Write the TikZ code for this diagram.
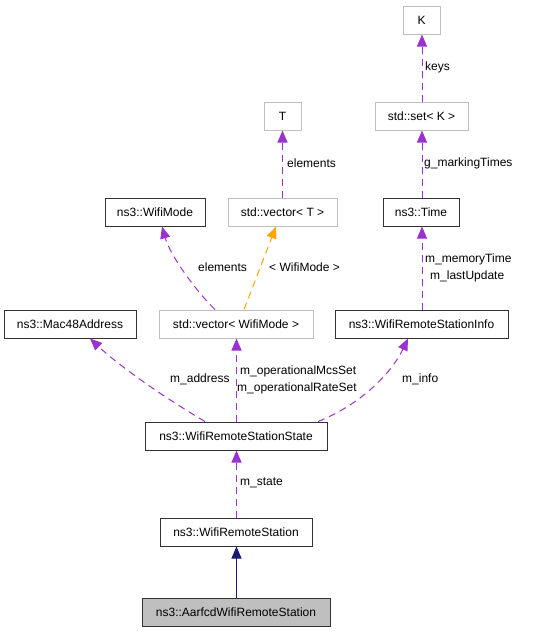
\documentclass[tikz,border=0pt]{standalone}
\usepackage{fontspec}
\setmainfont{Liberation Sans}
\usetikzlibrary{arrows.meta}
\definecolor{edgepurple}{HTML}{9A32CD}
\definecolor{edgeorange}{HTML}{FFA500}
\definecolor{edgenavy}{HTML}{191970}
\definecolor{tmplgray}{HTML}{BFBFBF}
\definecolor{fillgray}{HTML}{BFBFBF}
\begin{document}
\begin{tikzpicture}[x=1pt,y=-1pt,
  font=\fontsize{12}{14}\selectfont,
  cls/.style={draw=black!80, line width=1pt, rectangle, minimum height=28pt, inner sep=0pt},
  tmpl/.style={draw=tmplgray, line width=1pt, rectangle, minimum height=28pt, inner sep=0pt},
  usage/.style={draw=edgepurple, line width=1pt, dash pattern=on 7pt off 5pt, -{Triangle[length=12pt,width=10pt,fill=edgepurple]}},
  templ/.style={draw=edgeorange, line width=1pt, dash pattern=on 7pt off 5pt, -{Triangle[length=12pt,width=10pt,fill=edgeorange]}},
  inherit/.style={draw=edgenavy, line width=1pt, -{Triangle[length=12pt,width=10pt,fill=edgenavy]}},
  lbl/.style={anchor=west, inner sep=0pt}
]
\useasboundingbox (0,0) rectangle (552,632);

% nodes
\node[tmpl, minimum width=37pt] (K) at (421.5,20) {K};
\node[tmpl, minimum width=93pt] (setK) at (421.5,116) {std::set< K >};
\node[tmpl, minimum width=37pt] (T) at (282.5,116) {T};
\node[cls, minimum width=100pt] (mode) at (155,212) {ns3::WifiMode};
\node[tmpl, minimum width=109pt] (vecT) at (282.5,212) {std::vector< T >};
\node[cls, minimum width=76pt] (time) at (421,212) {ns3::Time};
\node[cls, minimum width=132pt] (mac) at (70,324) {ns3::Mac48Address};
\node[tmpl, minimum width=154pt] (vecWM) at (236,324) {std::vector< WifiMode >};
\node[cls, minimum width=173pt] (info) at (421.5,324) {ns3::WifiRemoteStationInfo};
\node[cls, minimum width=182pt] (state) at (236,436) {ns3::WifiRemoteStationState};
\node[cls, minimum width=152pt] (station) at (236,532) {ns3::WifiRemoteStation};
\node[cls, minimum width=188pt, fill=fillgray] (aarfcd) at (236,612) {ns3::AarfcdWifiRemoteStation};

% edges
\draw[usage] ([xshift=0.5pt]setK.north) -- ([xshift=0.5pt]K.south);
\draw[usage] ([xshift=1pt]time.north) -- ([xshift=0.5pt]setK.south);
\draw[usage] (vecT.north) -- (T.south);
\draw[usage] ([xshift=-21pt]vecWM.north) .. controls (195,290) and (170,255) .. ([xshift=7pt]mode.south);
\draw[templ] ([xshift=8pt]vecWM.north) -- ([xshift=-6.5pt]vecT.south);
\draw[usage] ([xshift=0.5pt]info.north) -- ([xshift=1pt]time.south);
\draw[usage] ([xshift=-31pt]state.north) .. controls (155,392) and (115,362) .. ([xshift=20pt]mac.south);
\draw[usage] ([xshift=0.5pt]state.north) -- ([xshift=0.5pt]vecWM.south);
\draw[usage] ([xshift=82pt]state.north) .. controls (362,404) and (392,372) .. ([xshift=-13.5pt]info.south);
\draw[usage] ([xshift=0.5pt]station.north) -- ([xshift=0.5pt]state.south);
\draw[inherit] ([xshift=0.5pt]aarfcd.north) -- ([xshift=0.5pt]station.south);

% labels
\node[lbl] (lkeys) at (425,67) {keys};
\node[lbl] (lelT) at (287,163) {elements};
\node[lbl] (lgmt) at (424,163) {g\_markingTimes};
\node[lbl] (lelWM) at (198,267) {elements};
\node[lbl] (ltwm) at (269,267) {< WifiMode >};
\node[lbl] (lmem) at (425,259) {m\_memoryTime};
\node[lbl] (llast) at (430,276) {m\_lastUpdate};
\node[lbl] (laddr) at (170,379) {m\_address};
\node[lbl] (lmcs) at (240,371) {m\_operationalMcsSet};
\node[lbl] (lrate) at (237,388) {m\_operationalRateSet};
\node[lbl] (linfo) at (402,379) {m\_info};
\node[lbl] (lstate) at (240,483) {m\_state};
\end{tikzpicture}
\end{document}
